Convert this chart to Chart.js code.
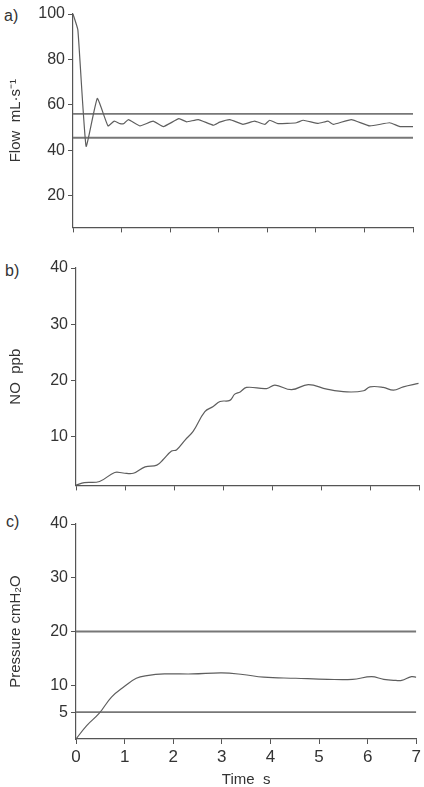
<!DOCTYPE html>
<html>
<head>
<meta charset="utf-8">
<script src="https://cdn.jsdelivr.net/npm/chart.js@4.4.0/dist/chart.umd.min.js"></script>
<style>
  html, body { margin: 0; padding: 0; background: #fff; }
  body { width: 424px; height: 787px; position: relative; overflow: hidden; font-family: "Liberation Sans", Arial, sans-serif; }
  .panel { position: absolute; left: 0; width: 424px; }
  .lbl { position: absolute; font-size: 16px; color: #333; line-height: 16px; }
</style>
</head>
<body>
<div class="lbl" style="left:4px;top:8px;">a)</div>
<div class="lbl" style="left:5px;top:263px;">b)</div>
<div class="lbl" style="left:6px;top:514px;">c)</div>
<div class="panel" style="top:0;height:240px;"><canvas id="ca"></canvas></div>
<div class="panel" style="top:240px;height:258px;"><canvas id="cb"></canvas></div>
<div class="panel" style="top:498px;height:289px;"><canvas id="cc"></canvas></div>
<script>
// ---- data ----
const timeTicks = [0, 1, 2, 3, 4, 5, 6, 7];

// a) Flow
const flowTime = [0, 0.1, 0.27, 0.5, 0.72, 0.85, 0.97, 1.05, 1.14, 1.38, 1.65, 1.86, 2.18, 2.34, 2.58, 2.89, 3.02, 3.23, 3.5, 3.74, 3.95, 4.05, 4.22, 4.6, 4.74, 5.05, 5.25, 5.36, 5.73, 6.11, 6.52, 6.73, 7.0];
const flowValues = [100, 93, 41.7, 62.8, 50.7, 52.8, 51.7, 51.8, 53.5, 50.7, 52.8, 50.4, 53.9, 52.5, 53.5, 51.0, 52.4, 53.5, 51.4, 52.8, 51.4, 53.2, 51.7, 52.1, 53.2, 51.8, 52.8, 51.4, 53.5, 50.7, 52.1, 50.4, 50.4];
const flowLimits = [56, 45.5];
const flowTicks = [20, 40, 60, 80, 100];

// b) NO
const noTime = [0, 0.17, 0.48, 0.79, 0.96, 1.17, 1.41, 1.65, 1.78, 1.95, 2.05, 2.23, 2.39, 2.63, 2.80, 2.94, 3.14, 3.24, 3.35, 3.48, 3.89, 4.06, 4.4, 4.74, 5.12, 5.53, 5.87, 6.0, 6.27, 6.48, 6.68, 6.99];
const noValues = [1.45, 1.9, 2.1, 3.7, 3.6, 3.55, 4.7, 5.0, 6.0, 7.5, 7.7, 9.5, 11.0, 14.5, 15.4, 16.3, 16.5, 17.6, 18.0, 18.8, 18.6, 19.2, 18.4, 19.3, 18.5, 18.0, 18.2, 18.9, 18.8, 18.3, 18.9, 19.5];
const noTicks = [10, 20, 30, 40];

// c) Pressure
const presTime = [0, 0.22, 0.48, 0.73, 1.0, 1.24, 1.46, 1.82, 2.4, 3.0, 3.43, 3.86, 4.52, 5.18, 5.69, 6.08, 6.33, 6.58, 6.7, 6.9, 7.0];
const presValues = [0, 2.5, 4.8, 7.8, 9.8, 11.3, 11.8, 12.1, 12.1, 12.3, 12.0, 11.5, 11.3, 11.1, 11.1, 11.6, 11.1, 10.9, 10.9, 11.6, 11.5];
const presLimits = [20, 5];
const presTicks = [5, 10, 20, 30, 40];

// ---- helpers ----
const FONT = "'Liberation Sans', Arial, sans-serif";
const AXIS = '#555';
const LINE = '#5e5e5e';
const pts = (xs, ys) => xs.map((x, i) => ({ x: x, y: ys[i] }));
const hline = (v) => [{ x: timeTicks[0], y: v }, { x: timeTicks[timeTicks.length - 1], y: v }];

function makeChart(id, cfg) {
  const datasets = [{
    data: pts(cfg.t, cfg.v),
    borderColor: LINE, borderWidth: 1.2, pointRadius: 0, tension: cfg.tension, fill: false
  }];
  (cfg.limits || []).forEach(l => datasets.push({
    data: hline(l), borderColor: '#777', borderWidth: 1.8, pointRadius: 0, fill: false
  }));
  return new Chart(document.getElementById(id), {
    type: 'line',
    data: { datasets },
    options: {
      responsive: true, maintainAspectRatio: false, animation: false,
      layout: { padding: { top: cfg.padTop, right: cfg.padRight, left: 0, bottom: 0 } },
      plugins: { legend: { display: false }, tooltip: { enabled: false } },
      scales: {
        x: {
          type: 'linear', min: 0, max: 7,
          afterBuildTicks: s => { s.ticks = timeTicks.map(v => ({ value: v })); },
          afterFit: s => { s.height = cfg.xHeight; },
          border: { display: true, color: AXIS, width: 1.2 },
          grid: { drawOnChartArea: false, drawTicks: true, tickLength: 5, color: AXIS },
          ticks: {
            color: '#333', font: { family: FONT, size: 17 }, padding: 3, maxRotation: 0,
            callback: v => cfg.xLabels ? String(v) : ''
          },
          title: cfg.xLabels ? { display: true, text: 'Time  s', color: '#333', font: { family: FONT, size: 15 }, padding: { top: 0, bottom: -2 } } : { display: false }
        },
        y: {
          type: 'linear', min: cfg.ymin, max: cfg.ymax,
          afterBuildTicks: s => { s.ticks = cfg.yTicks.map(v => ({ value: v })); },
          afterFit: s => { s.width = cfg.left; },
          border: { display: true, color: AXIS, width: 1.2 },
          grid: { drawOnChartArea: false, drawTicks: true, tickLength: 5, color: AXIS },
          ticks: { color: '#333', font: { family: FONT, size: 16 }, padding: 3 },
          title: { display: true, text: cfg.ytitle, color: '#333', font: { family: FONT, size: 15 }, padding: { top: 7, bottom: 0 } }
        }
      }
    }
  });
}

makeChart('ca', { t: flowTime, v: flowValues, limits: flowLimits, yTicks: flowTicks, ymin: 6, ymax: 100,
  ytitle: 'Flow  mL·s⁻¹', tension: 0.12, padTop: 14, padRight: 11, xHeight: 9, left: 73, xLabels: false });
makeChart('cb', { t: noTime, v: noValues, limits: [], yTicks: noTicks, ymin: 1.4, ymax: 40,
  ytitle: 'NO  ppb', tension: 0.4, padTop: 28, padRight: 5, xHeight: 10, left: 76, xLabels: false });
makeChart('cc', { t: presTime, v: presValues, limits: presLimits, yTicks: presTicks, ymin: 0, ymax: 40,
  ytitle: 'Pressure cmH₂O', tension: 0.4, padTop: 26, padRight: 7, xHeight: 48, left: 76, xLabels: true });
</script>
</body>
</html>
